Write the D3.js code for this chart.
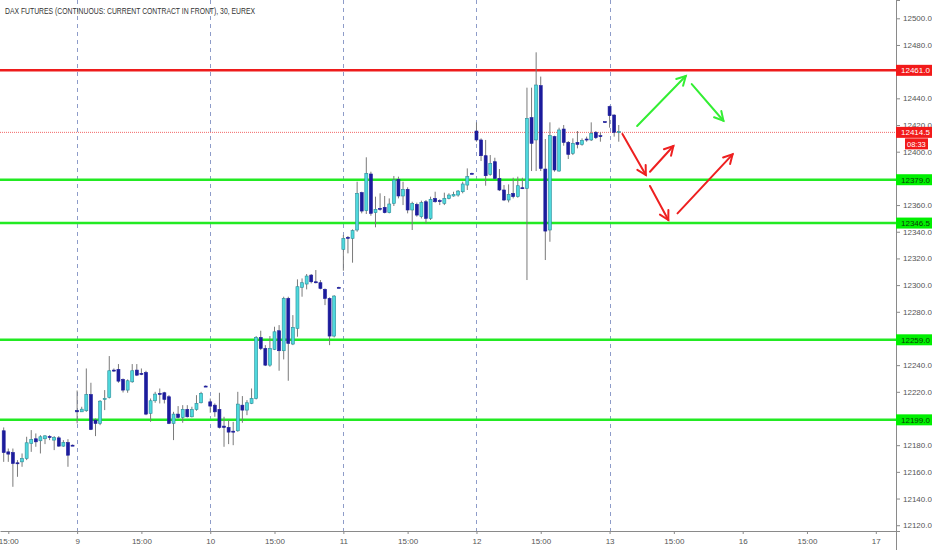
<!DOCTYPE html>
<html>
<head>
<meta charset="utf-8">
<script src="https://d3js.org/d3.v7.min.js"></script>
<style>
  body { margin: 0; background: #fff; }
  svg text { font-family: "Liberation Sans", Arial, sans-serif; }
</style>
</head>
<body>
<div id="viz"></div>
<script>
// 30 minute bars, index 0 = Fri 14:30, sessions 08:00-22:00 (29 bars)
var opens = [12190.8,12175,12174.5,12166.8,12167.5,12170,12181.3,12184.8,12183.3,12184.8,12186.5,12183.8,12185.5,12179.3,12182,12180,
  12206,12205,12205.8,12218,12198.8,12196.3,12214.5,12215.8,12236.3,12236.8,12229.3,12221.3,12227.5,12236.3,12233.8,12234.5,12203.8,12213.3,12218.8,12219.3,12216.3,12196.3,12203.3,12200.8,12206.8,12201.3,12206.8,12211.8,12224.3,
  12212.5,12210,12206.8,12194.3,12193.3,12190.5,12190.8,12210,12206.3,12211.3,12215,12260.8,12252.5,12240,12251.8,12265.8,12250.8,12290,12255.8,12267.5,12298.3,12300.8,12307.5,12302.5,12301.8,12296.8,12290,12261.8,12298.3,
  12326.8,12335.8,12335,12341.3,12369.3,12355.8,12383.3,12354.3,12357.5,12358.3,12354.3,12361.3,12379.3,12366.8,12371.8,12356.3,12360.5,12351.3,12362.5,12350,12365,12363.3,12361.3,12365,12366.8,12367.5,12370,12375,12383.8,
  12415.5,12408.8,12397,12383,12392.5,12380,12371.3,12363.8,12368.8,12366.3,12373,12372.5,12425.5,12408.8,12449.5,12387,12341.3,12411.3,12385.5,12417,12407,12398.8,12407,12405.5,12409.5,12408.8,12414.5,12412,12422.5,
  12433.8,12427.5,12414.5];
var highs = [12193.3,12177.5,12177.5,12168.8,12173.8,12186.3,12191.3,12188.8,12187.5,12187.5,12187.5,12186.8,12186.8,12183.8,12184.5,12180.5,
  12221,12208.8,12237.5,12226.8,12200,12213.8,12221.3,12246.8,12237.5,12240.8,12230,12229.3,12240.8,12240.8,12237.5,12235.8,12215,12220,12222.5,12220,12217.5,12205,12209.3,12210,12210,12208.8,12217.5,12220,12224.8,
  12215,12211.3,12219.3,12201.3,12198.8,12197.5,12220,12216.8,12213.8,12222.5,12261.8,12265.8,12255,12261.8,12268.8,12270,12291.3,12291.3,12277.5,12304.3,12305,12308.3,12308.3,12311.3,12303.8,12297.5,12290.8,12292.5,12298.8,
  12337.5,12336.8,12341.8,12377.5,12370,12395.8,12385,12366.3,12368.8,12366.8,12365,12381.8,12381.3,12377.5,12373.3,12362.5,12361.8,12363.3,12363.8,12366.3,12370,12364.3,12369.3,12368.8,12370,12371.3,12377.5,12387.5,12384.3,
  12422,12410,12408.8,12397.5,12395.5,12387,12375,12375.5,12380.5,12381.3,12380.5,12448,12448,12474.5,12456.3,12409.5,12422,12412,12418,12420,12408,12410,12415.5,12410,12411.3,12422,12415.5,12414.5,12423,
  12434.5,12428,12420];
var lows = [12167.5,12167.5,12148.8,12156.3,12163.8,12168.8,12175,12178.8,12173.8,12180.8,12183.8,12176.3,12178.8,12178.8,12163.8,12179.5,
  12196.3,12205,12205,12191.3,12186.8,12195,12206.3,12215,12235,12226.8,12219.5,12219.3,12226.8,12231.8,12232.5,12202.5,12197.5,12211.8,12211.3,12211.3,12195.8,12183.8,12200,12196.8,12200.8,12200.8,12205.8,12211.3,12223.8,
  12204.3,12201.3,12192.5,12178.8,12180.8,12180,12190,12196.8,12202.5,12210.8,12214.3,12251.3,12239.3,12238.8,12251.3,12235.8,12244.3,12228.3,12255,12261.3,12291.3,12296.8,12301.3,12301.3,12296.8,12285,12255,12260.8,12297.8,
  12310.8,12323.8,12316.8,12340,12353.8,12353.3,12352,12343.3,12355.8,12353.8,12353.8,12359.3,12365,12360,12353.8,12341.3,12351.3,12350,12346.3,12348.8,12361.8,12360,12360,12364.3,12366.3,12366.3,12368.8,12371.3,12383.3,
  12407.5,12393,12374.5,12382,12379.5,12370.5,12363,12362,12365,12365.5,12372,12303.8,12385.5,12385.5,12385.5,12318.8,12332.5,12385,12385,12404.5,12394.5,12397.5,12402.5,12404.5,12407.5,12408,12409.5,12407.5,12422,
  12418,12411.3,12407.5];
var closes = [12174.5,12173.3,12166.3,12166.8,12170,12181.8,12184.3,12182.5,12186.3,12187,12186.3,12185.8,12179.3,12182,12172.5,12180,
  12205,12207,12218,12191.8,12196.3,12213,12215,12235.8,12236.3,12228,12221.3,12228.3,12235.8,12232.5,12233.8,12203.3,12213.3,12218.3,12218.8,12214.3,12196.3,12203.3,12200.8,12206.8,12201.3,12206.8,12211.3,12218.8,12224.3,
  12209.3,12205,12193.3,12193.3,12189.8,12189.8,12210.8,12206.3,12211.8,12215,12260.8,12252.5,12240,12252.5,12265,12250.8,12290,12256.3,12268.3,12298.8,12301.8,12306.8,12302.5,12302.5,12297.5,12290,12261.8,12291.8,12298.3,
  12335,12335.8,12340.8,12368.8,12355.5,12383.8,12353.8,12356.8,12357.5,12354.3,12360.8,12378.8,12366.8,12371.8,12356.3,12361.3,12352.5,12361.8,12350,12364.3,12362.5,12363.3,12365,12367.5,12368,12370.5,12375.8,12381.3,12383.8,
  12408.8,12397,12382,12391.3,12380,12371.3,12363.8,12368,12366.3,12374.5,12373,12425,12406.3,12450,12387.5,12340.5,12412,12386.3,12416.3,12407,12398,12406.3,12405.5,12408.5,12409.5,12413.8,12410.5,12412,12422.5,
  12427,12414.5,12415];

var tickBars = [1, 16, 30, 45, 59, 74, 88, 103, 117, 132, 146, 161, 175, 190];
var tickLabels = ["15:00", "9", "15:00", "10", "15:00", "11", "15:00", "12", "15:00", "13", "15:00", "16", "15:00", "17"];
var sessionStarts = [16, 45, 74, 103, 132];

var resistanceLevels = [12461];
var supportLevels = [12379, 12346.5, 12259, 12199];
var lastPrice = 12414.5;
var countdown = "08:33";

// scenario arrows: [bar1, price1, bar2, price2]
var greenArrows = [[138.0, 12419.3, 148.6, 12456.7], [149.9, 12450.7, 156.8, 12423.2]];
var redArrows = [[134.8, 12413.3, 139.9, 12382.5], [140.8, 12385, 145.9, 12404.3],
  [140.8, 12374.3, 144.8, 12348.8], [146.8, 12353.8, 158.8, 12398]];

var title = "DAX FUTURES (CONTINUOUS: CURRENT CONTRACT IN FRONT), 30, EUREX";

var W = 932, H = 550, plotW = 896, plotH = 531;

var svg = d3.select("#viz").append("svg")
  .attr("width", W).attr("height", H);

var x = d3.scaleLinear().domain([-0.806, 194.4]).range([0, plotW]);
var y = d3.scaleLinear().domain([12115.67, 12513.72]).range([plotH, 0]);

var candles = opens.map(function (o, i) {
  return { i: i, o: o, h: highs[i], l: lows[i], c: closes[i] };
});

// session break lines
svg.append("g").selectAll("line").data(sessionStarts).enter().append("line")
  .attr("x1", function (d) { return Math.round(x(d)) + 0.5; })
  .attr("x2", function (d) { return Math.round(x(d)) + 0.5; })
  .attr("y1", 0).attr("y2", plotH)
  .attr("stroke", "#8e9cc9").attr("stroke-width", 1)
  .attr("stroke-dasharray", "4,4");

// horizontal levels
svg.append("g").selectAll("line").data(resistanceLevels).enter().append("line")
  .attr("x1", 0).attr("x2", plotW)
  .attr("y1", function (d) { return y(d); }).attr("y2", function (d) { return y(d); })
  .attr("stroke", "#ee1c1c").attr("stroke-width", 2.5);

svg.append("g").selectAll("line").data(supportLevels).enter().append("line")
  .attr("x1", 0).attr("x2", plotW)
  .attr("y1", function (d) { return y(d); }).attr("y2", function (d) { return y(d); })
  .attr("stroke", "#22ea22").attr("stroke-width", 2.5);

// last price line
svg.append("line")
  .attr("x1", 0).attr("x2", plotW)
  .attr("y1", y(lastPrice)).attr("y2", y(lastPrice))
  .attr("stroke", "#f04040").attr("stroke-width", 0.8)
  .attr("stroke-dasharray", "1,1");

// candles
var bodyW = 3;
var cg = svg.append("g");
cg.selectAll("line.wick").data(candles).enter().append("line")
  .attr("class", "wick")
  .attr("x1", function (d) { return x(d.i); }).attr("x2", function (d) { return x(d.i); })
  .attr("y1", function (d) { return y(d.h); }).attr("y2", function (d) { return y(d.l); })
  .attr("stroke", "#7a7a7a").attr("stroke-width", 1);

cg.selectAll("rect").data(candles).enter().append("rect")
  .attr("x", function (d) { return x(d.i) - bodyW / 2; })
  .attr("width", bodyW)
  .attr("y", function (d) { return y(Math.max(d.o, d.c)); })
  .attr("height", function (d) { return Math.max(1, Math.abs(y(d.o) - y(d.c))); })
  .attr("fill", function (d) { return d.c > d.o ? "#4fd8dc" : "#1c1c9c"; })
  .attr("stroke", function (d) { return d.c > d.o ? "#2a8c99" : "#1c1c9c"; })
  .attr("stroke-width", 0.6);

// arrows
function drawArrows(data, color) {
  var g = svg.append("g").attr("stroke", color).attr("stroke-width", 2)
    .attr("fill", "none").attr("stroke-linecap", "round");
  data.forEach(function (a) {
    var x1 = x(a[0]), y1 = y(a[1]), x2 = x(a[2]), y2 = y(a[3]);
    var ang = Math.atan2(y2 - y1, x2 - x1), L = 10, s = 0.5;
    g.append("line").attr("x1", x1).attr("y1", y1).attr("x2", x2).attr("y2", y2);
    g.append("path").attr("d", d3.line()([
      [x2 - L * Math.cos(ang - s), y2 - L * Math.sin(ang - s)],
      [x2, y2],
      [x2 - L * Math.cos(ang + s), y2 - L * Math.sin(ang + s)]
    ]));
  });
}
drawArrows(greenArrows, "#33ee33");
drawArrows(redArrows, "#ee2020");

// axes; tick labels sitting under a level label are hidden, as on the reference
var levelPrices = resistanceLevels.concat(supportLevels);
var yTicks = d3.range(12120, 12501, 20).filter(function (t) {
  return !levelPrices.some(function (p) { return Math.abs(y(p) - y(t)) < 6; });
});
var yAxis = d3.axisRight(y).tickValues(yTicks)
  .tickFormat(d3.format(".1f")).tickSize(4).tickPadding(3);
var yg = svg.append("g").attr("transform", "translate(" + plotW + ",0)").call(yAxis);
yg.select(".domain").attr("stroke", "#8a8a8a");
yg.selectAll(".tick line").attr("stroke", "#8a8a8a");
yg.selectAll("text").attr("fill", "#555").style("font-size", "8px");
svg.append("line").attr("x1", plotW + 0.5).attr("x2", plotW + 0.5)
  .attr("y1", 0).attr("y2", H).attr("stroke", "#8a8a8a");

var xAxis = d3.axisBottom(x).tickValues(tickBars)
  .tickFormat(function (d, i) { return tickLabels[i]; })
  .tickSize(3).tickPadding(4).tickSizeOuter(0);
var xg = svg.append("g").attr("transform", "translate(0," + plotH + ")").call(xAxis);
xg.select(".domain").attr("stroke", "#8a8a8a");
xg.selectAll(".tick line").attr("stroke", "#8a8a8a");
xg.selectAll("text").attr("fill", "#555").style("font-size", "8px");

// price labels on the axis
function priceLabel(p, bg, fg) {
  var g = svg.append("g").attr("transform", "translate(" + plotW + "," + y(p) + ")");
  g.append("rect").attr("x", 0).attr("y", -5.5).attr("width", W - plotW).attr("height", 11).attr("fill", bg);
  g.append("text").attr("x", 5).attr("y", 3).attr("fill", fg)
    .style("font-size", "8px").text(d3.format(".1f")(p));
  return g;
}
resistanceLevels.forEach(function (p) { priceLabel(p, "#f21a1a", "#fff"); });
supportLevels.forEach(function (p) { priceLabel(p, "#00f000", "#0a3a0a"); });
var lp = priceLabel(lastPrice, "#f21a1a", "#fff");
lp.append("rect").attr("x", 9).attr("y", 6).attr("width", 23).attr("height", 11).attr("fill", "#f21a1a");
lp.append("text").attr("x", 11).attr("y", 14.5).attr("fill", "#fff")
  .style("font-size", "7.5px").text(countdown);

// title
svg.append("text").attr("x", 5).attr("y", 14).attr("fill", "#333")
  .style("font-size", "8.5px")
  .attr("textLength", 250).attr("lengthAdjust", "spacingAndGlyphs")
  .text(title);
</script>
</body>
</html>
